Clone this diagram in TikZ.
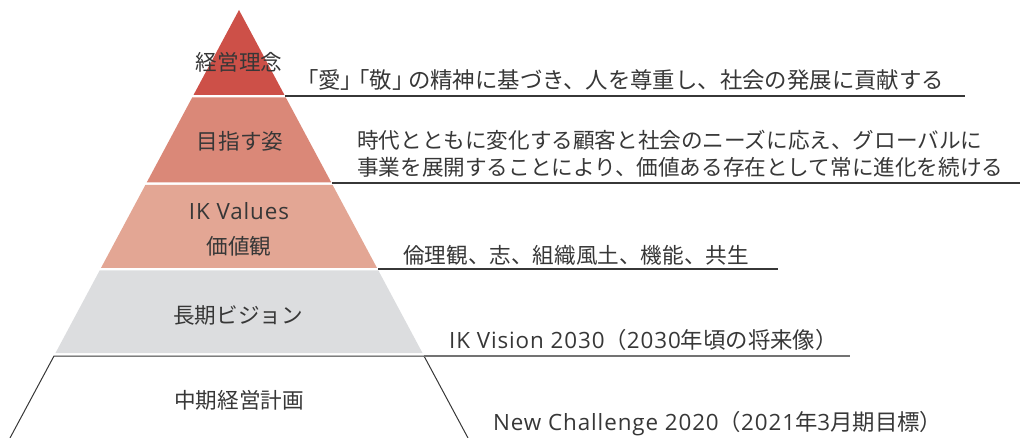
\documentclass[tikz,border=0pt]{standalone}
\usepackage{fontspec}
\setmainfont{Noto Sans CJK JP}
\newfontfamily\latn[LetterSpace=4]{Open Sans}
\usetikzlibrary{positioning,calc}
\definecolor{layA}{RGB}{205,80,72}
\definecolor{layB}{RGB}{218,136,120}
\definecolor{layC}{RGB}{227,166,148}
\definecolor{layD}{RGB}{220,221,223}
\definecolor{ink}{RGB}{55,55,55}
\newcommand{\lt}[1]{{\latn #1}}

\begin{document}
\begin{tikzpicture}[x=1pt,y=-1pt,
  lbl/.style={text=ink,font=\fontsize{21.6}{27}\selectfont,inner sep=0pt},
  note/.style={lbl,anchor=west,align=left},
  wide/.style={font=\fontsize{22.4}{27}\selectfont},
  rule/.style={draw=ink,line width=1.1pt}]
\useasboundingbox (0,0) rectangle (1020,438);

% pyramid
\foreach \t/\b/\c in {10/95/layA,97.5/182.5/layB,185/268/layC,270.5/353/layD}
  \fill[\c] ({239-(\t-10)*0.535},\t) -- ({239+(\t-10)*0.535},\t)
    -- ({239+(\b-10)*0.535},\b) -- ({239-(\b-10)*0.535},\b) -- cycle;
\coordinate (b1) at (10,438);
\coordinate (b2) at (54,356);
\coordinate (b3) at (424,356);
\coordinate (b4) at (468,438);
\draw[draw=ink,line width=1pt] (b1) -- (b2) -- (b3) -- (b4);

% leader lines
\coordinate (s1) at (285,96);   \coordinate (e1) at (965,96);
\coordinate (s2) at (332,183);  \coordinate (e2) at (1020,183);
\coordinate (s3) at (378,269);  \coordinate (e3) at (778,269);
\coordinate (e4) at (850,356);
\draw[rule] (s1) -- (e1);
\draw[rule] (s2) -- (e2);
\draw[rule] (s3) -- (e3);
\draw[rule,draw=ink!70] (b3) -- (e4);

% layer labels
\node[lbl] (rinen) at (239,62) {経営理念};
\node[lbl] (sugata) at (240,141) {目指す姿};
\node[lbl,wide] (values) at (239,211) {\lt{IK Values}};
\node[lbl] (kachi) at (239,246) {価値観};
\node[lbl] (vision) at (238,315) {長期ビジョン};
\node[lbl] (chuki) at (239,400) {中期経営計画};

% notes
\node[note,wide] (rinen-txt) at (307,80) {\kern-.5em「愛」\kern-.7em「敬」\kern-.3em の精神に基づき、人を尊重し、社会の発展に貢献する};
\node[note] (sugata-txt) at (357,153.5) {時代とともに変化する顧客と社会のニーズに応え、グローバルに\\
  事業を展開することにより、価値ある存在として常に進化を続ける};
\node[note] (values-txt) at (403,255) {倫理観、志、組織風土、機能、共生};
\node[note,wide] (vision-txt) at (449,340) {\lt{IK Vision 2030}（\lt{2030}年頃の将来像）};
\node[note,wide] (chuki-txt) at (493,424) {\lt{New Challenge 2020}（\lt{2021}年\lt{3}月期目標）};
\end{tikzpicture}
\end{document}
